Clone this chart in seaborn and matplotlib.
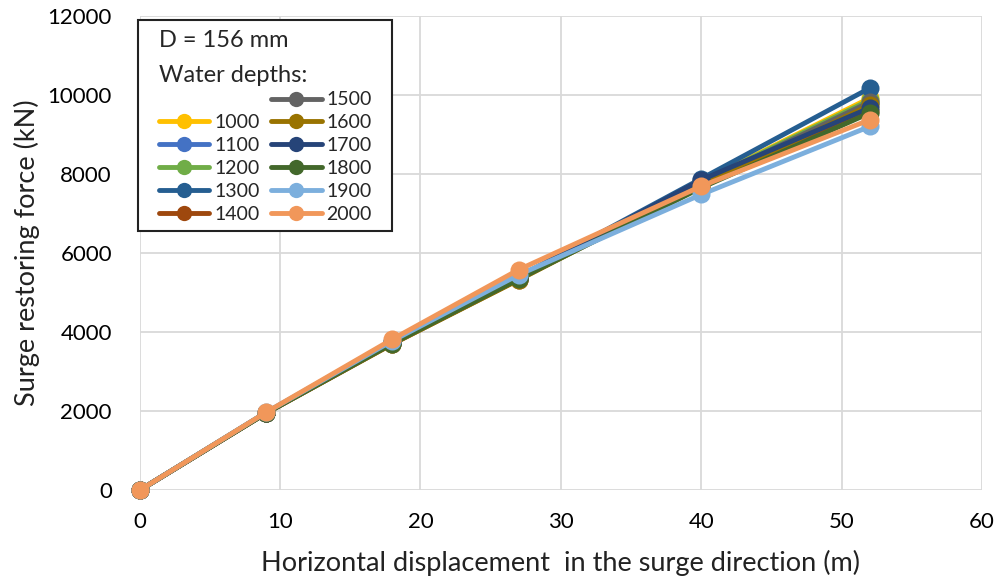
import numpy as np
import pandas as pd
import matplotlib
matplotlib.use("Agg")
import matplotlib.pyplot as plt
from matplotlib.lines import Line2D
from matplotlib.patches import Rectangle
import seaborn as sns

displacement = [0, 9, 18, 27, 40, 52]
depths = ["1000", "1100", "1200", "1300", "1400", "1500",
          "1600", "1700", "1800", "1900", "2000"]
force_1000 = [0, 1960, 3740, 5380, 7800, 9920]
force_1100 = [0, 1960, 3740, 5370, 7790, 9800]
force_1200 = [0, 1960, 3740, 5380, 7790, 9870]
force_1300 = [0, 1960, 3750, 5400, 7880, 10170]
force_1400 = [0, 1950, 3700, 5330, 7720, 9600]
force_1500 = [0, 1950, 3720, 5350, 7760, 9820]
force_1600 = [0, 1950, 3700, 5320, 7700, 9740]
force_1700 = [0, 1960, 3730, 5380, 7850, 9670]
force_1800 = [0, 1950, 3710, 5340, 7650, 9540]
force_1900 = [0, 1970, 3780, 5450, 7480, 9200]
force_2000 = [0, 1970, 3820, 5580, 7690, 9370]
forces = [force_1000, force_1100, force_1200, force_1300, force_1400, force_1500,
          force_1600, force_1700, force_1800, force_1900, force_2000]

colors = ["#FFC000", "#4472C4", "#70AD47", "#255E91", "#9E480E", "#636363",
          "#997300", "#264478", "#43682B", "#7CAFDD", "#F1975A"]

df = pd.DataFrame({
    "x": displacement * len(depths),
    "y": [v for f in forces for v in f],
    "depth": [d for d in depths for _ in displacement],
})

sns.set_theme(style="whitegrid")
plt.rcParams["font.family"] = ["Lato", "DejaVu Sans"]

fig = plt.figure(figsize=(9.98, 5.85), dpi=100)
ax = fig.add_axes([0.140, 0.162, 0.844, 0.811])

sns.lineplot(data=df, x="x", y="y", hue="depth", hue_order=depths,
             palette=dict(zip(depths, colors)), marker="o", markersize=13,
             markeredgewidth=0, linewidth=3.5, ax=ax, legend=True, sort=False)

ax.set_xlim(0, 60)
ax.set_ylim(0, 12000)
ax.set_xticks(np.arange(0, 61, 10))
ax.set_yticks(np.arange(0, 12001, 2000))
ax.grid(True, color="#D9D9D9", linewidth=1.3)
for s in ax.spines.values():
    s.set_visible(False)
ax.tick_params(axis="both", labelsize=16, colors="#000000", length=0)
ax.tick_params(axis="y", pad=20)
ax.tick_params(axis="x", pad=16)
ax.set_xlabel("Horizontal displacement  in the surge direction (m)", fontsize=19.5,
              color="#222222")
ax.set_ylabel("Surge restoring force (kN)", fontsize=19.5, color="#222222")
ax.xaxis.set_label_coords(0.5, -0.125)
ax.yaxis.set_label_coords(-0.118, 0.5)
for line in ax.lines:
    line.set_clip_on(False)

# legend: two columns, empty slot above 1000 so 1500 sits beside the subtitle
handles, labels = ax.get_legend_handles_labels()
ax.get_legend().remove()
blank = Line2D([], [], linestyle="none", marker=None)
leg_handles = [blank] + handles[:5] + handles[5:]
leg_labels = [""] + labels[:5] + labels[5:]
leg = ax.legend(leg_handles, leg_labels, ncol=2, loc="upper left",
                bbox_to_anchor=(0.0226, 0.970), borderaxespad=0, borderpad=0,
                title="D = 156 mm\nWater depths:",
                alignment="left", fontsize=14, title_fontsize=17,
                frameon=False, handlelength=2.58, handletextpad=0.26,
                columnspacing=0.62, labelspacing=0.3)
leg.get_title().set_multialignment("left")
leg.get_title().set_linespacing(1.8)
for h in leg.legend_handles:
    h.set_markersize(11)
leg.set_zorder(6)

# boxed frame around the legend, wider side margins than top/bottom
box = Rectangle((-0.0024, 0.5464), 0.3017, 0.4452, transform=ax.transAxes,
                facecolor="white", edgecolor="#222222", linewidth=1.5,
                zorder=5.5, clip_on=False)
ax.add_patch(box)

fig.savefig("out.png", dpi=100)
